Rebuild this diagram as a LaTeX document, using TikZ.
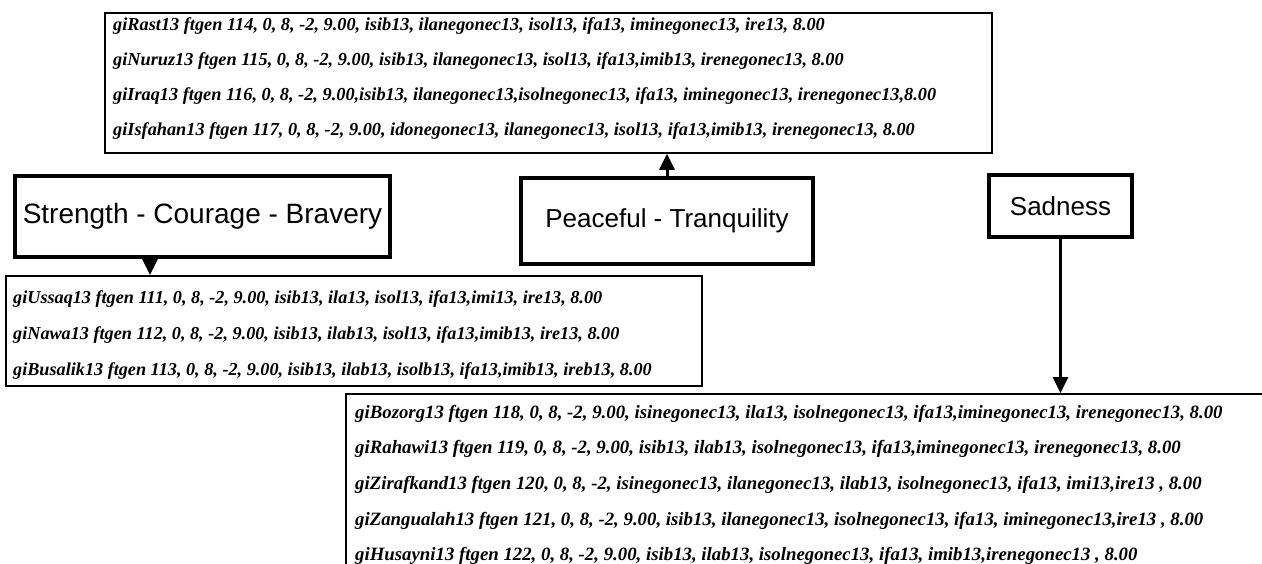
\documentclass[tikz,border=0pt]{standalone}
\usepackage{fontspec}
\setmainfont{Liberation Serif}
\setsansfont{Liberation Sans}
\usepackage{tikz}
\usetikzlibrary{arrows.meta,positioning,calc}

\tikzset{
	mood/.style={draw, line width=4.5pt, inner sep=0pt, font=\sffamily\fontsize{26}{30}\selectfont},
	tablebox/.style={draw, line width=1.8pt, inner sep=0pt, anchor=north west},
	code/.style={anchor=west, inner sep=0pt, font=\bfseries\itshape\fontsize{#1}{20}\selectfont},
	flow/.style={line width=3pt, -{Triangle[length=16pt,width=15pt]}}
}

\begin{document}
\begin{tikzpicture}[x=1pt,y=-1pt]
		\clip (0,0) rectangle (1262,563);
		\fill[white] (0,0) rectangle (1262,563);
		% tables of ftgen lines
		\node[tablebox, minimum width=887pt, minimum height=140pt] (upper) at (104,12) {};
		\node[tablebox, minimum width=696pt, minimum height=110pt] (ussaqbox) at (5,275) {};
		\node[tablebox, minimum width=960pt, minimum height=200pt] (bozorgbox) at (345,393) {};
		% moods
		\node[mood, minimum width=375pt, minimum height=81pt, font=\sffamily\fontsize{28}{30}\selectfont] (strength) at (202.5,216.5) {Strength - Courage - Bravery};
		\node[mood, minimum width=292pt, minimum height=86pt] (peace) at (667,221) {Peaceful - Tranquility};
		\node[mood, minimum width=143pt, minimum height=62pt] (sad) at (1060.5,206) {Sadness};
		% upper table
		\node[code=18.3] (rast) at (113,26) {giRast13 ftgen 114, 0, 8, -2, 9.00, isib13, ilanegonec13, isol13, ifa13, iminegonec13, ire13, 8.00};
		\node[code=18.3] (nuruz) at (113,61) {giNuruz13 ftgen 115, 0, 8, -2, 9.00, isib13, ilanegonec13, isol13, ifa13,imib13, irenegonec13, 8.00};
		\node[code=18.3] (iraq) at (113,96) {giIraq13 ftgen 116, 0, 8, -2, 9.00,isib13, ilanegonec13,isolnegonec13, ifa13, iminegonec13, irenegonec13,8.00};
		\node[code=18.3] (isfahan) at (113,131) {giIsfahan13 ftgen 117, 0, 8, -2, 9.00, idonegonec13, ilanegonec13, isol13, ifa13,imib13, irenegonec13, 8.00};
		% left table
		\node[code=18.2] (ussaq) at (13,299) {giUssaq13 ftgen 111, 0, 8, -2, 9.00, isib13, ila13, isol13, ifa13,imi13, ire13, 8.00};
		\node[code=18.2] (nawa) at (13,335) {giNawa13 ftgen 112, 0, 8, -2, 9.00, isib13, ilab13, isol13, ifa13,imib13, ire13, 8.00};
		\node[code=18.2] (busalik) at (13,371) {giBusalik13 ftgen 113, 0, 8, -2, 9.00, isib13, ilab13, isolb13, ifa13,imib13, ireb13, 8.00};
		% right table
		\node[code=18.8] (bozorg) at (355,414) {giBozorg13 ftgen 118, 0, 8, -2, 9.00, isinegonec13, ila13, isolnegonec13, ifa13,iminegonec13, irenegonec13, 8.00};
		\node[code=18.8] (rahawi) at (355,449) {giRahawi13 ftgen 119, 0, 8, -2, 9.00, isib13, ilab13, isolnegonec13, ifa13,iminegonec13, irenegonec13, 8.00};
		\node[code=18.8] (zirafkand) at (355,485) {giZirafkand13 ftgen 120, 0, 8, -2, isinegonec13, ilanegonec13, ilab13, isolnegonec13, ifa13, imi13,ire13 , 8.00};
		\node[code=18.8] (zangualah) at (355,521) {giZangualah13 ftgen 121, 0, 8, -2, 9.00, isib13, ilanegonec13, isolnegonec13, ifa13, iminegonec13,ire13 , 8.00};
		\node[code=18.8] (husayni) at (355,556) {giHusayni13 ftgen 122, 0, 8, -2, 9.00, isib13, ilab13, isolnegonec13, ifa13, imib13,irenegonec13 , 8.00};
		% arrows
		\draw[flow] ([xshift=-52.5pt]strength.south) -- ([xshift=-52.5pt]strength.south |- ussaqbox.north);
		\draw[flow] (peace.north) -- (peace.north |- upper.south);
		\draw[flow] (sad.south) -- (sad.south |- bozorgbox.north);
	\end{tikzpicture}
\end{document}
